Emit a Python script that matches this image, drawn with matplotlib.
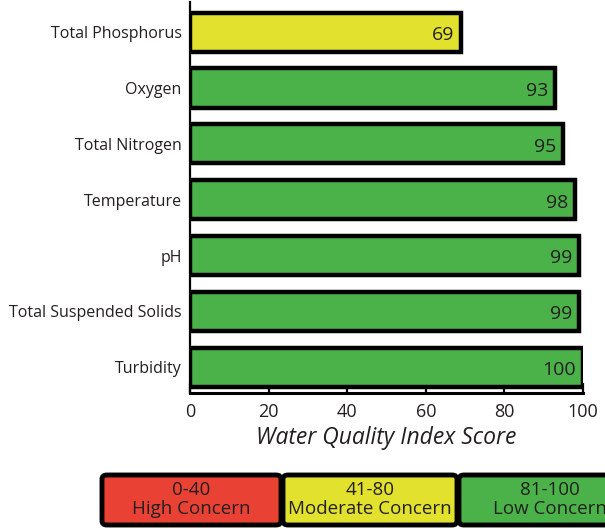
import matplotlib
matplotlib.use("Agg")
import matplotlib.pyplot as plt
from matplotlib.patches import FancyBboxPatch

plt.rcParams['font.family'] = ['Open Sans', 'DejaVu Sans']

categories = ["Total Phosphorus", "Oxygen", "Total Nitrogen", "Temperature",
              "pH", "Total Suspended Solids", "Turbidity"]
values = [69, 93, 95, 98, 99, 99, 100]
xticks = [0, 20, 40, 60, 80, 100]
legend_ranges = ["0-40", "41-80", "81-100"]
legend_names = ["High Concern", "Moderate Concern", "Low Concern"]

RED = "#E94235"
YELLOW = "#E2E22E"
GREEN = "#4BB24A"
legend_colors = [RED, YELLOW, GREEN]

def color_for(v):
    if v <= 40:
        return RED
    if v <= 80:
        return YELLOW
    return GREEN

fig = plt.figure(figsize=(6.05, 5.29), dpi=100)
W, H = 605, 529
ax = fig.add_axes([190 / W, 1 - 393 / H, (583 - 190) / W, (393 - 2) / H])

ypos = list(range(len(categories)))
ax.barh(ypos, values, height=0.70, color=[color_for(v) for v in values],
        edgecolor="black", linewidth=3.2, zorder=3)
for y, v in zip(ypos, values):
    ax.text(v - 1.8, y + 0.05, str(v), ha="right", va="center",
            fontsize=14, color="#231F20", zorder=4)

ax.set_xlim(0, 100)
ax.set_ylim(6.46, -0.54)
ax.set_yticks(ypos)
ax.set_yticklabels(categories)
ax.tick_params(axis="y", length=0, pad=6, labelsize=11.5, labelcolor="#231F20")
ax.set_xticks(xticks)
ax.set_xticklabels([str(t) for t in xticks])
ax.tick_params(axis="x", direction="in", length=7, width=1.6, pad=7,
               labelsize=13, labelcolor="#231F20")
for s in ["top", "right"]:
    ax.spines[s].set_visible(False)
ax.spines["left"].set_linewidth(1.6)
ax.spines["bottom"].set_linewidth(2.2)
ax.spines["bottom"].set_position(("data", 6.46))
ax.set_xlabel("Water Quality Index Score", fontsize=16.5, style="italic",
              color="#231F20", labelpad=4)

# legend boxes
boxes = [(102, 281), (283, 457), (459, 640)]
ytop, ybot = 475, 525
for (x0, x1), c, r, n in zip(boxes, legend_colors, legend_ranges, legend_names):
    p = FancyBboxPatch((x0 / W, 1 - ybot / H), (x1 - x0) / W, (ybot - ytop) / H,
                       boxstyle="round,pad=0,rounding_size=0.008",
                       transform=fig.transFigure, facecolor=c,
                       edgecolor="black", linewidth=3.5, clip_on=False)
    fig.patches.append(p)
    cx = (x0 + x1) / 2 / W
    fig.text(cx, 1 - 490 / H, r, ha="center", va="center", fontsize=13.5, color="#231F20")
    fig.text(cx, 1 - 509 / H, n, ha="center", va="center", fontsize=13.5, color="#231F20")

fig.savefig("out.png", dpi=100)
